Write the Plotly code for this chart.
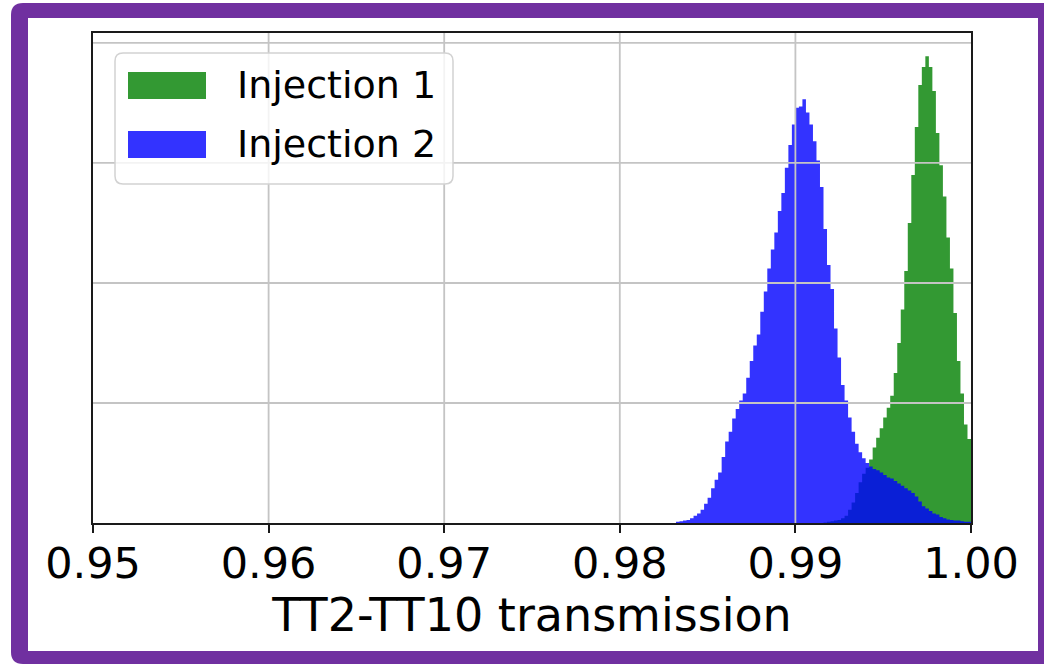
import numpy as np
import plotly.graph_objects as go

# ---------------- data ----------------
BIN_WIDTH = 0.0002

# Injection 2 (blue) histogram: first bin edge and bin heights (arb. units)
inj2_first_edge = 0.9832
inj2_counts = [
    0.01, 0.015, 0.02, 0.025, 0.04, 0.06, 0.08, 0.11, 0.16, 0.21,
    0.29, 0.36, 0.42, 0.55, 0.68, 0.76, 0.87, 0.95, 1.02, 1.08,
    1.21, 1.35, 1.48, 1.57, 1.76, 1.93, 2.12, 2.28, 2.42, 2.60,
    2.75, 2.96, 3.15, 3.32, 3.46, 3.47, 3.53, 3.42, 3.32, 3.18,
    3.02, 2.80, 2.45, 2.15, 1.95, 1.62, 1.38, 1.15, 1.02, 0.88,
    0.76, 0.66, 0.59, 0.54, 0.50, 0.47, 0.45, 0.44, 0.42, 0.40,
    0.38, 0.37, 0.35, 0.33, 0.31, 0.29, 0.27, 0.25, 0.22, 0.18,
    0.14, 0.12, 0.10, 0.08, 0.07, 0.05, 0.04, 0.03, 0.025, 0.02,
    0.02, 0.015, 0.01, 0.01,
]

# Injection 1 (green) histogram
inj1_first_edge = 0.9916
inj1_counts = [
    0.005, 0.01, 0.015, 0.02, 0.025, 0.04, 0.06, 0.11, 0.17, 0.25,
    0.34, 0.41, 0.46, 0.53, 0.63, 0.71, 0.79, 0.88, 0.96, 1.06,
    1.25, 1.50, 1.78, 2.10, 2.50, 2.90, 3.30, 3.65, 3.80, 3.89,
    3.80, 3.60, 3.25, 2.98, 2.72, 2.38, 2.12, 1.75, 1.35, 1.08,
    0.82, 0.70,
]

series_names = ["Injection 1", "Injection 2"]
x_ticks = [0.95, 0.96, 0.97, 0.98, 0.99, 1.00]
x_ticklabels = ["0.95", "0.96", "0.97", "0.98", "0.99", "1.00"]
y_grid = [1, 2, 3, 4]
x_title = "TT2-TT10 transmission"

X_RANGE = [0.95, 1.0]
Y_RANGE = [0, 4.083]

# ---------------- layout constants (pixels) ----------------
FIG_W, FIG_H = 1044, 665
L, R, T, B = 93, 971, 33, 523
PW, PH = R - L, B - T
FONT = "DejaVu Sans"

GREEN_RGB = "0,128,0"
BLUE_RGB = "0,0,255"
ALPHA = 0.8


def step_xy(first_edge, counts):
    """Histogram outline for an 'hv' step line: one point per bin left edge,
    plus the closing right edge."""
    n = len(counts)
    edges = [round(first_edge + BIN_WIDTH * i, 6) for i in range(n + 1)]
    xs = [edges[0]] + edges
    ys = [0] + list(counts) + [counts[-1]]
    return xs, ys


def px_x(px):
    return (px - L) / PW


def px_y(py):
    return (B - py) / PH


def rrect(x0, y0, x1, y1, r):
    pts = [
        ("M", (x0 + r, y0)), ("L", (x1 - r, y0)), ("Q", (x1, y0), (x1, y0 + r)),
        ("L", (x1, y1 - r)), ("Q", (x1, y1), (x1 - r, y1)),
        ("L", (x0 + r, y1)), ("Q", (x0, y1), (x0, y1 - r)),
        ("L", (x0, y0 + r)), ("Q", (x0, y0), (x0 + r, y0)),
    ]
    s = ""
    for item in pts:
        cmd = item[0]
        coords = " ".join(f"{px_x(p[0]):.6f},{px_y(p[1]):.6f}" for p in item[1:])
        s += f"{cmd}{coords} "
    return s + "Z"


fig = go.Figure()
for name, first, counts, rgb in [
    (series_names[0], inj1_first_edge, inj1_counts, GREEN_RGB),
    (series_names[1], inj2_first_edge, inj2_counts, BLUE_RGB),
]:
    xs, ys = step_xy(first, counts)
    fig.add_trace(go.Scatter(
        x=xs, y=ys, mode="lines", line=dict(shape="hv", width=0, color=f"rgba({rgb},0)"),
        fill="tozeroy", fillcolor=f"rgba({rgb},{ALPHA})",
        name=name, showlegend=False, hoverinfo="skip",
    ))

shapes = []
# purple frame and white card
shapes.append(dict(type="path", xref="paper", yref="paper", layer="below",
                   path=rrect(11, 3, 1060, 664, 12),
                   fillcolor="#7030a0", line=dict(width=0)))
shapes.append(dict(type="rect", xref="paper", yref="paper", layer="below",
                   x0=px_x(28), x1=px_x(1038), y0=px_y(651), y1=px_y(18),
                   fillcolor="white", line=dict(width=0)))
# grid lines above the histograms (matplotlib style)
GRID = dict(color="#c4c4c4", width=1.8)
for xv in x_ticks[1:-1]:
    shapes.append(dict(type="line", xref="x", yref="paper", layer="above",
                       x0=xv, x1=xv, y0=0, y1=1, line=GRID))
for yv in y_grid:
    shapes.append(dict(type="line", xref="paper", yref="y", layer="above",
                       x0=0, x1=1, y0=yv, y1=yv, line=GRID))
# legend box
shapes.append(dict(type="path", xref="paper", yref="paper", layer="above",
                   path=rrect(115, 53, 453, 184, 8),
                   fillcolor="rgba(255,255,255,0.8)",
                   line=dict(color="#d2d2d2", width=1.5)))
legend_rows = [(72, 99, GREEN_RGB), (131, 158, BLUE_RGB)]
annotations = []
for (ya, yb, rgb), name in zip(legend_rows, series_names):
    shapes.append(dict(type="rect", xref="paper", yref="paper", layer="above",
                       x0=px_x(128), x1=px_x(206), y0=px_y(yb), y1=px_y(ya),
                       fillcolor=f"rgba({rgb},{ALPHA})", line=dict(width=0)))
    annotations.append(dict(xref="paper", yref="paper", x=px_x(235),
                            y=px_y((ya + yb) / 2), text=name, showarrow=False,
                            xanchor="left", yanchor="middle",
                            font=dict(family=FONT, size=38, color="black")))

fig.update_layout(
    width=FIG_W, height=FIG_H,
    margin=dict(l=L, r=FIG_W - R, t=T, b=FIG_H - B, pad=0),
    paper_bgcolor="white", plot_bgcolor="white",
    shapes=shapes, annotations=annotations,
    showlegend=False,
    font=dict(family=FONT, color="black"),
)
fig.update_xaxes(
    range=X_RANGE, tickvals=x_ticks, ticktext=x_ticklabels,
    showgrid=False, zeroline=False,
    showline=True, mirror=True, linecolor="#1a1a1a", linewidth=1.6,
    ticks="outside", ticklen=8, tickwidth=1.6, tickcolor="#1a1a1a",
    tickfont=dict(family=FONT, size=43, color="black"),
    ticklabelstandoff=-6,
    title=dict(text=x_title, font=dict(family=FONT, size=46, color="black"), standoff=1),
    layer="above traces",
)
fig.update_yaxes(
    range=Y_RANGE, showticklabels=False, ticks="",
    showgrid=False, zeroline=False,
    showline=True, mirror=True, linecolor="#1a1a1a", linewidth=1.6,
    layer="above traces",
)

fig.write_html("out.html")
